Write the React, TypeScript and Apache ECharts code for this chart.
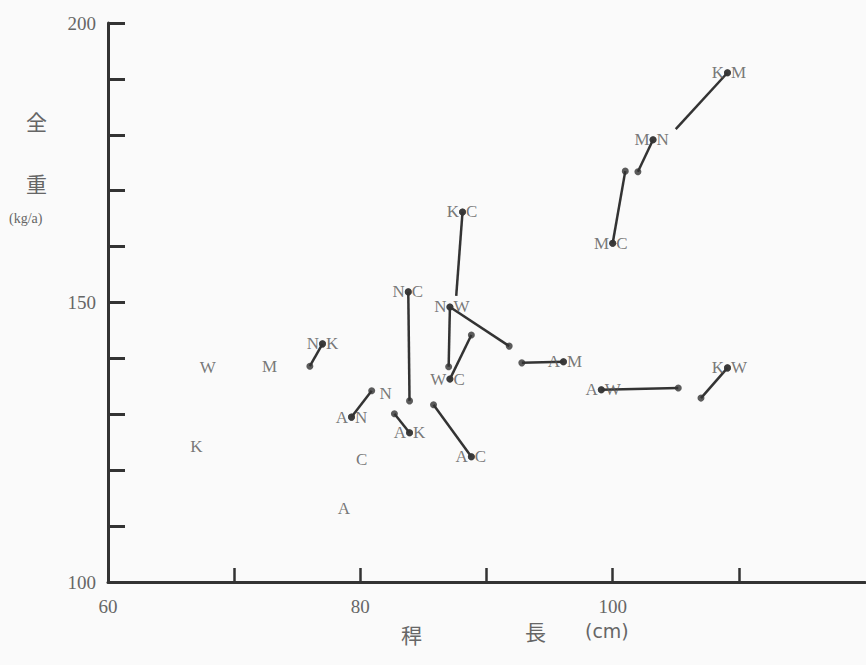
import React, { useEffect, useRef } from 'react';
import * as echarts from 'echarts';

// Labeled points (pairs), the dot sits between the two letters
const pairLabels = ['N•K', 'A•N', 'N•C', 'A•K', 'A•C', 'K•C', 'N•W', 'W•C', 'A•M', 'A•W', 'K•W', 'K•M', 'M•N', 'M•C'];
const pairX = [77.0, 79.3, 83.8, 83.9, 88.8, 88.1, 87.1, 87.1, 96.1, 99.1, 109.1, 109.1, 103.2, 100.0];
const pairY = [142.6, 129.5, 151.9, 126.7, 122.4, 166.2, 149.2, 136.3, 139.4, 134.4, 138.3, 191.1, 179.1, 160.6];

// Connecting segments: from a labeled point (index) to another point
const linkFrom = [0, 1, 2, 3, 4, 5, 6, 6, 7, 8, 9, 10, 11, 12, 13];
const linkToX = [76.0, 80.9, 83.9, 82.7, 85.8, 87.6, 91.8, 87.0, 88.8, 92.8, 105.2, 107.0, 105.0, 102.0, 101.0];
const linkToY = [138.6, 134.2, 132.4, 130.1, 131.7, 151.2, 142.2, 138.5, 144.2, 139.2, 134.7, 132.9, 181.0, 173.4, 173.5];
const linkToDot = [true, true, true, true, true, false, true, true, true, true, true, true, false, true, true];

// Single-letter points
const singleLabels = ['W', 'M', 'K', 'C', 'A', 'N'];
const singleX = [67.9, 72.8, 67.0, 80.1, 78.7, 82.0];
const singleY = [138.3, 138.6, 124.2, 122.0, 113.2, 133.8];

const xLabelValues = [60, 80, 100];
const yLabelValues = [100, 150, 200];

const INK = '#333';
const TEXT = '#555';
const SERIF = '"Liberation Serif", "DejaVu Serif", serif';
const CJK = '"Noto Sans CJK JP", sans-serif';

export default function App() {
  const ref = useRef<HTMLDivElement>(null);

  useEffect(() => {
    if (!ref.current) return;
    const chart = echarts.init(ref.current, undefined, { renderer: 'svg' });

    const lineSeries = linkFrom.map((fi, i) => ({
      type: 'line',
      data: [
        [pairX[fi], pairY[fi]],
        [linkToX[i], linkToY[i]],
      ],
      symbol: 'none',
      silent: true,
      lineStyle: { color: INK, width: 2.5 },
      z: 2,
    }));

    const endDots = linkToX
      .map((x, i) => ({ x, y: linkToY[i], d: linkToDot[i] }))
      .filter((p) => p.d)
      .map((p) => [p.x, p.y]);

    const pairData = pairLabels.map((l, i) => [pairX[i], pairY[i], l]);

    const option: any = {
      animation: false,
      backgroundColor: '#fafafa',
      grid: { left: 108, top: 23, width: 757, height: 559, containLabel: false },
      xAxis: {
        type: 'value',
        min: 60,
        max: 120,
        interval: 10,
        splitLine: { show: false },
        axisLine: { show: true, onZero: false, lineStyle: { color: INK, width: 3 } },
        axisTick: { show: true, inside: true, length: 14, lineStyle: { color: INK, width: 2.5 } },
        axisLabel: {
          margin: 15,
          color: '#666',
          fontSize: 19,
          fontFamily: SERIF,
          formatter: (v: number) => (xLabelValues.includes(v) ? String(v) : ''),
          showMaxLabel: false,
        },
      },
      yAxis: {
        type: 'value',
        min: 100,
        max: 200,
        interval: 10,
        splitLine: { show: false },
        axisLine: { show: true, onZero: false, lineStyle: { color: INK, width: 3 } },
        axisTick: { show: true, inside: true, length: 17, lineStyle: { color: INK, width: 3 } },
        axisLabel: {
          margin: 12,
          color: '#666',
          fontSize: 19,
          fontFamily: SERIF,
          formatter: (v: number) => (yLabelValues.includes(v) ? String(v) : ''),
        },
      },
      series: [
        ...lineSeries,
        {
          type: 'scatter',
          data: endDots,
          symbol: 'circle',
          symbolSize: 7,
          itemStyle: { color: INK },
          silent: true,
          z: 3,
        },
        {
          type: 'scatter',
          data: pairData,
          symbol: 'circle',
          symbolSize: 7,
          itemStyle: { color: INK },
          silent: true,
          z: 4,
          label: {
            show: true,
            position: 'left',
            distance: 0,
            color: TEXT,
            fontSize: 17,
            fontFamily: SERIF,
            formatter: (p: any) => String(p.data[2]).split('•')[0],
          },
        },
        {
          type: 'scatter',
          data: pairData,
          symbol: 'circle',
          symbolSize: 7,
          itemStyle: { color: INK },
          silent: true,
          z: 4,
          label: {
            show: true,
            position: 'right',
            distance: 0,
            color: TEXT,
            fontSize: 17,
            fontFamily: SERIF,
            formatter: (p: any) => String(p.data[2]).split('•')[1],
          },
        },
        {
          type: 'scatter',
          data: singleLabels.map((l, i) => [singleX[i], singleY[i], l]),
          symbol: 'circle',
          symbolSize: 2,
          itemStyle: { color: 'rgba(0,0,0,0)' },
          silent: true,
          z: 4,
          label: {
            show: true,
            position: 'inside',
            color: TEXT,
            fontSize: 17,
            fontFamily: SERIF,
            formatter: (p: any) => p.data[2],
          },
        },
      ],
      graphic: [
        { type: 'text', left: 26, top: 110, style: { text: '全', fontSize: 21, fontFamily: CJK, fill: '#666' } },
        { type: 'text', left: 26, top: 172, style: { text: '重', fontSize: 21, fontFamily: CJK, fill: '#666' } },
        { type: 'text', left: 9, top: 211, style: { text: '(kg/a)', fontSize: 14, fontFamily: SERIF, fill: '#666' } },
        { type: 'text', left: 401, top: 623, style: { text: '稈', fontSize: 21, fontFamily: CJK, fill: '#666' } },
        { type: 'text', left: 525, top: 620, style: { text: '長', fontSize: 21, fontFamily: CJK, fill: '#666' } },
        { type: 'text', left: 585, top: 621, style: { text: '(cm)', fontSize: 19, fontFamily: '"DejaVu Sans", sans-serif', fill: '#666' } },
      ],
    };

    chart.setOption(option);
    return () => chart.dispose();
  }, []);

  return (
    <div
      ref={ref}
      style={{ position: 'fixed', left: 0, top: 0, width: 866, height: 665 }}
    />
  );
}
